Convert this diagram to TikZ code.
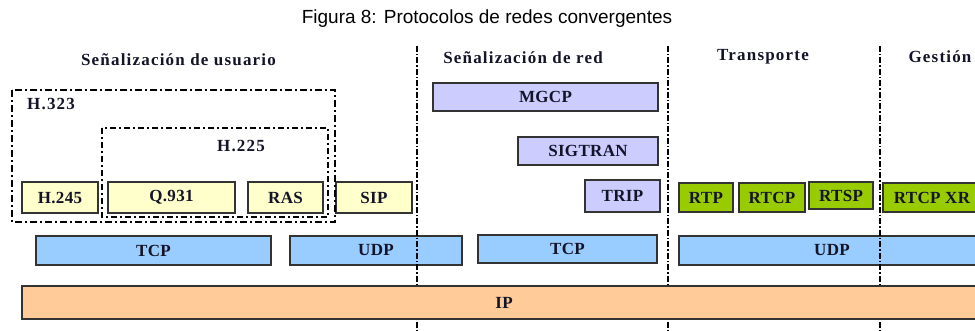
\documentclass[tikz,border=0pt]{standalone}
\usepackage{fontspec}
\setmainfont{Liberation Serif}
\newfontfamily\titlefont{Liberation Sans}
\newfontfamily\lblfont[LetterSpace=2]{Liberation Serif Bold}
\newfontfamily\hdrfont[LetterSpace=7]{Liberation Serif Bold}
\definecolor{yel}{HTML}{FFFFCC}
\definecolor{lav}{HTML}{CCCCFF}
\definecolor{grn}{HTML}{99CC00}
\definecolor{blu}{HTML}{99CCFF}
\definecolor{org}{HTML}{FFCC99}
\definecolor{edge}{HTML}{333333}
\definecolor{ink}{HTML}{141428}
\begin{document}
\begin{tikzpicture}[x=1pt,y=-1pt,
  pbox/.style={draw=edge, line width=1.6pt, inner sep=0pt, minimum width=#1, font=\lblfont\fontsize{17}{18}\selectfont, text=ink},
  hdr/.style={font=\hdrfont\fontsize{17}{18}\selectfont, text=ink, inner sep=0pt},
  divider/.style={line width=1.2pt, dash pattern=on 6pt off 2pt on 1.5pt off 2pt},
  grp/.style={line width=2.8pt, dash pattern=on 7pt off 3pt on 2pt off 3pt},
  grpin/.style={line width=2.2pt, dash pattern=on 6pt off 3pt on 2pt off 3pt}]
\useasboundingbox (0,0) rectangle (975,331);
% title
\node[font=\titlefont\fontsize{19}{20}\selectfont, inner sep=0pt] (title) at (487,19) {Figura 8: Protocolos de redes convergentes};
% headers
\node[hdr] (h1) at (178.5,60) {Señalización de usuario};
\node[hdr] (h2) at (523,58) {Señalización de red};
\node[hdr] (h3) at (763,57) {Transporte};
\node[hdr] (h4) at (940,57) {Gestión};
% bottom boxes under dividers
\node[pbox=235pt, minimum height=29pt, fill=blu] (tcp1) at (153.5,250.5) {TCP};
\node[pbox=172pt, minimum height=29pt, fill=blu] (udp1) at (376,250.5) {UDP};
\node[pbox=179pt, minimum height=28pt, fill=blu] (tcp2) at (567.5,249) {TCP};
\node[pbox=306pt, minimum height=29pt, fill=blu] (udp2) at (832,250.5) {UDP};
% dividers
\draw[divider] (417,46) -- (417,331);
\draw[divider] (668,46) -- (668,331);
\draw[divider] (880,46) -- (880,331);
% IP
\node[pbox=964pt, minimum height=33pt, fill=org] (ip) at (504,302.5) {IP};
% user signalling
\node[pbox=76pt, minimum height=31pt, fill=yel] (h245) at (60,197.5) {H.245};
\node[pbox=127pt, minimum height=31pt, fill=yel] (q931) at (171.5,197.5) {Q.931};
\node[pbox=75pt, minimum height=31pt, fill=yel] (ras) at (285.5,197.5) {RAS};
\node[pbox=76pt, minimum height=31pt, fill=yel] (sip) at (374,197.5) {SIP};
\draw[grp] (12,90) rectangle (335,222);
\node[hdr, anchor=west] (h323) at (27,104) {H.323};
\draw[grpin] (102,128) rectangle (328,217);
\node[hdr] (h225) at (241,146) {H.225};
% network signalling
\node[pbox=225pt, minimum height=28pt, fill=lav] (mgcp) at (545.5,97) {MGCP};
\node[pbox=140pt, minimum height=28pt, fill=lav] (sigtran) at (588,151) {SIGTRAN};
\node[pbox=75pt, minimum height=32pt, fill=lav] (trip) at (622.5,196) {TRIP};
% transport
\node[pbox=54pt, minimum height=29pt, fill=grn] (rtp) at (706,197.5) {RTP};
\node[pbox=66pt, minimum height=29pt, fill=grn] (rtcp) at (772,197.5) {RTCP};
\node[pbox=64pt, minimum height=27pt, fill=grn] (rtsp) at (841,195.5) {RTSP};
\node[pbox=98pt, minimum height=29pt, fill=grn] (rtcpxr) at (932,197.5) {RTCP XR};
\end{tikzpicture}
\end{document}
